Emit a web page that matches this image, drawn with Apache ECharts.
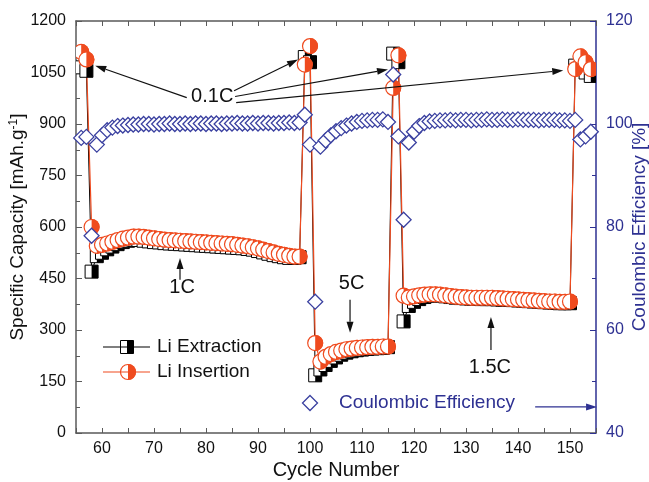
<!DOCTYPE html>
<html>
<head>
<meta charset="utf-8">
<script src="https://cdn.jsdelivr.net/npm/echarts@6/dist/echarts.min.js"></script>
<style>
html, body { margin: 0; padding: 0; background: #fff; }
#chart { width: 649px; height: 482px; }
</style>
</head>
<body>
<div id="chart"></div>
<script>
// cycle numbers
var cycles = [
    56, 57, 58, 59, 60, 61, 62, 63, 64, 65,
    66, 67, 68, 69, 70, 71, 72, 73, 74, 75,
    76, 77, 78, 79, 80, 81, 82, 83, 84, 85,
    86, 87, 88, 89, 90, 91, 92, 93, 94, 95,
    96, 97, 98, 99, 100, 101, 102, 103, 104, 105,
    106, 107, 108, 109, 110, 111, 112, 113, 114, 115,
    116, 117, 118, 119, 120, 121, 122, 123, 124, 125,
    126, 127, 128, 129, 130, 131, 132, 133, 134, 135,
    136, 137, 138, 139, 140, 141, 142, 143, 144, 145,
    146, 147, 148, 149, 150, 151, 152, 153, 154
];

// Li extraction capacity (mAh/g)
var extraction = [
    1065, 1055, 470, 515, 525, 535, 543, 550, 556, 560,
    563, 562, 560, 558, 556, 555, 553, 552, 551, 550,
    549, 548, 547, 546, 545, 544, 543, 542, 541, 540,
    539, 538, 536, 534, 530, 526, 522, 518, 515, 512,
    510, 510, 512, 1095, 1080, 168, 185, 198, 210, 220,
    228, 234, 238, 241, 243, 245, 246, 247, 248, 250,
    1105, 1080, 325, 370, 382, 390, 396, 400, 401, 400,
    398, 396, 394, 393, 392, 391, 391, 390, 390, 390,
    389, 388, 388, 387, 386, 385, 384, 383, 382, 381,
    380, 379, 378, 378, 378, 1070, 1065, 1050, 1040
];

// Li insertion capacity (mAh/g)
var insertion = [
    1110, 1088, 600, 545, 548, 552, 557, 562, 566, 569,
    572, 572, 571, 569, 567, 565, 563, 562, 561, 560,
    559, 558, 557, 556, 555, 554, 553, 552, 551, 550,
    548, 546, 544, 541, 538, 534, 530, 526, 522, 519,
    516, 514, 514, 1073, 1127, 262, 208, 222, 230, 236,
    240, 244, 246, 248, 249, 250, 251, 251, 252, 252,
    1005, 1100, 400, 395, 398, 401, 403, 404, 404, 403,
    401, 399, 397, 396, 395, 394, 394, 394, 394, 394,
    393, 392, 391, 390, 389, 388, 387, 386, 385, 384,
    383, 383, 382, 382, 383, 1060, 1097, 1080, 1060
];

// coulombic efficiency (%)
var efficiency = [
    97.3, 97.5, 78.3, 96.0, 97.8, 98.8, 99.3, 99.6, 99.7, 99.8,
    99.9, 99.9, 100.0, 100.0, 99.9, 100.0, 100.0, 100.1, 100.0, 100.0,
    100.1, 100.0, 100.1, 100.1, 100.0, 100.1, 100.1, 100.0, 100.1, 100.1,
    100.2, 100.1, 100.1, 100.2, 100.1, 100.2, 100.2, 100.1, 100.2, 100.2,
    100.3, 100.2, 100.3, 101.8, 96.0, 65.5, 95.6, 96.8, 97.8, 98.6,
    99.2, 99.7, 100.1, 100.4, 100.6, 100.7, 100.8, 100.8, 100.9, 100.4,
    109.6, 97.6, 81.4, 96.4, 98.5, 99.6, 100.2, 100.5, 100.6, 100.7,
    100.7, 100.8, 100.7, 100.8, 100.8, 100.7, 100.8, 100.8, 100.9, 100.8,
    100.8, 100.9, 100.8, 100.8, 100.9, 100.8, 100.8, 100.8, 100.7, 100.8,
    100.8, 100.8, 100.7, 100.7, 100.6, 100.8, 97.0, 97.6, 98.5
];

// rate labels, placed in data coordinates [cycle, capacity]
var rateNotes = [
    { text: '0.1C', at: [81.2, 980] },
    { text: '1C', at: [75.4, 423] },
    { text: '5C', at: [108, 435] },
    { text: '1.5C', at: [134.6, 190] }
];

// arrows [from, to] in data coordinates
var rateArrows = [
    [[76.3, 977], [58.7, 1070]],
    [[85.4, 997], [97.7, 1088]],
    [[85.6, 980], [115, 1059]],
    [[85.8, 962], [148.7, 1056]],
    [[75, 446], [75, 510]],
    [[107.7, 388], [107.7, 292]],
    [[134.8, 242], [134.8, 338]]
];
var ceArrow = [[143.3, 76], [155.2, 76]];

var ORANGE = '#EF4B1F';
var BLUE = '#2E3192';
var DIAMOND = '#3A40A0';
var AXIS_GREY = '#5a5a5a';
var FONT = 'Arial, "Liberation Sans", sans-serif';

function squareShape(x, y) {
    var s = 13;
    return [
        { type: 'rect', shape: { x: x - s / 2, y: y - s / 2, width: s, height: s }, style: { fill: '#fff', stroke: '#000', lineWidth: 1 } },
        { type: 'rect', shape: { x: x, y: y - s / 2, width: s / 2, height: s }, style: { fill: '#000' } }
    ];
}

function circleShape(x, y) {
    var r = 7.5;
    return [
        { type: 'circle', shape: { cx: x, cy: y, r: r }, style: { fill: '#fff', stroke: ORANGE, lineWidth: 1.2 } },
        { type: 'sector', shape: { cx: x, cy: y, r0: 0, r: r + 0.5, startAngle: -Math.PI / 2, endAngle: Math.PI / 2 }, style: { fill: ORANGE } }
    ];
}

function pairs(ys) {
    return cycles.map(function (c, i) { return [c, ys[i]]; });
}

var chart = echarts.init(document.getElementById('chart'));

var option = {
    animation: false,
    backgroundColor: '#fff',
    textStyle: { fontFamily: FONT },
    grid: { left: 76, right: 53, top: 21, bottom: 49, containLabel: false, outerBoundsMode: 'none' },
    xAxis: [
        {
            type: 'value',
            min: 55,
            max: 155,
            interval: 5,
            position: 'bottom',
            name: 'Cycle Number',
            nameLocation: 'middle',
            nameGap: 27,
            nameMoveOverlap: false,
            nameTextStyle: { fontSize: 20, color: '#111', fontFamily: FONT },
            axisLine: { lineStyle: { color: AXIS_GREY, width: 1.5 } },
            axisTick: { inside: true, length: 5, lineStyle: { color: AXIS_GREY } },
            axisLabel: {
                color: '#111',
                fontSize: 16,
                margin: 8,
                fontFamily: FONT,
                formatter: function (v) { return v % 10 === 0 ? String(v) : ''; }
            },
            splitLine: { show: false }
        },
        {
            type: 'value',
            min: 55,
            max: 155,
            interval: 5,
            position: 'top',
            axisLine: { lineStyle: { color: AXIS_GREY, width: 1.5 } },
            axisTick: { inside: true, length: 5, lineStyle: { color: AXIS_GREY } },
            axisLabel: { show: false },
            splitLine: { show: false }
        }
    ],
    yAxis: [
        {
            type: 'value',
            min: 0,
            max: 1200,
            interval: 150,
            position: 'left',
            name: 'Specific Capacity [mAh.g{sup|-1}]',
            nameLocation: 'middle',
            nameGap: 48,
            nameMoveOverlap: false,
            nameTextStyle: {
                fontSize: 19,
                color: '#111',
                fontFamily: FONT,
                rich: { sup: { fontSize: 12, color: '#111', verticalAlign: 'top', padding: [0, 0, 8, 0] } }
            },
            axisLine: { show: true, lineStyle: { color: AXIS_GREY, width: 1.5 } },
            axisTick: { show: true, inside: true, length: 6, lineStyle: { color: AXIS_GREY } },
            minorTick: { show: true, splitNumber: 2, length: 4, lineStyle: { color: AXIS_GREY } },
            axisLabel: {
                color: '#111',
                fontSize: 16,
                margin: 10,
                fontFamily: FONT,
                formatter: function (v) { return String(v); }
            },
            splitLine: { show: false }
        },
        {
            type: 'value',
            min: 40,
            max: 120,
            interval: 20,
            position: 'right',
            name: 'Coulombic Efficiency [%]',
            nameLocation: 'middle',
            nameGap: 34,
            nameMoveOverlap: false,
            nameTextStyle: { fontSize: 19, color: BLUE, fontFamily: FONT },
            axisLine: { show: true, lineStyle: { color: BLUE, width: 1.5 } },
            axisTick: { show: true, inside: true, length: 6, lineStyle: { color: BLUE } },
            minorTick: { show: true, splitNumber: 2, length: 4, lineStyle: { color: BLUE } },
            axisLabel: {
                color: BLUE,
                fontSize: 16,
                margin: 10,
                fontFamily: FONT,
                formatter: function (v) { return String(v); }
            },
            splitLine: { show: false }
        }
    ],
    series: [
        {
            name: 'Li Extraction line',
            type: 'line',
            data: pairs(extraction),
            symbol: 'none',
            lineStyle: { color: '#000', width: 1 },
            z: 2
        },
        {
            name: 'Li Insertion line',
            type: 'line',
            data: pairs(insertion),
            symbol: 'none',
            lineStyle: { color: ORANGE, width: 1.2 },
            z: 2
        },
        {
            name: 'Li Extraction',
            type: 'custom',
            data: pairs(extraction),
            clip: true,
            z: 3,
            renderItem: function (params, api) {
                var p = api.coord([api.value(0), api.value(1)]);
                return { type: 'group', children: squareShape(p[0], p[1]) };
            }
        },
        {
            name: 'Li Insertion',
            type: 'custom',
            data: pairs(insertion),
            clip: true,
            z: 4,
            renderItem: function (params, api) {
                var p = api.coord([api.value(0), api.value(1)]);
                return { type: 'group', children: circleShape(p[0], p[1]) };
            }
        },
        {
            name: 'Coulombic Efficiency',
            type: 'scatter',
            yAxisIndex: 1,
            data: pairs(efficiency),
            symbol: 'diamond',
            symbolSize: 15,
            itemStyle: { color: '#fff', borderColor: DIAMOND, borderWidth: 1.3, opacity: 1 },
            z: 5
        }
    ]
};

chart.setOption(option);

// annotations and legend
function arrowParts(from, to, color) {
    var a = chart.convertToPixel({ gridIndex: 0 }, from);
    var b = chart.convertToPixel({ gridIndex: 0 }, to);
    var dx = b[0] - a[0], dy = b[1] - a[1];
    var len = Math.sqrt(dx * dx + dy * dy);
    var ux = dx / len, uy = dy / len;
    var headL = 11, headW = 3.5;
    var bx = b[0] - ux * headL, by = b[1] - uy * headL;
    return [
        { type: 'line', shape: { x1: a[0], y1: a[1], x2: bx, y2: by }, style: { stroke: color, lineWidth: 1.2 }, z: 10 },
        {
            type: 'polygon',
            shape: { points: [[b[0], b[1]], [bx - uy * headW, by + ux * headW], [bx + uy * headW, by - ux * headW]] },
            style: { fill: color },
            z: 10
        }
    ];
}

var graphics = [];

rateNotes.forEach(function (n) {
    var p = chart.convertToPixel({ gridIndex: 0 }, n.at);
    graphics.push({
        type: 'text', x: p[0], y: p[1], z: 10,
        style: { text: n.text, fontSize: 20, fontFamily: FONT, fill: '#111', align: 'center', verticalAlign: 'middle' }
    });
});

rateArrows.forEach(function (ar) {
    graphics = graphics.concat(arrowParts(ar[0], ar[1], '#111'));
});
graphics = graphics.concat(arrowParts(ceArrow[0], ceArrow[1], BLUE));

// legend: extraction / insertion
graphics.push({ type: 'line', shape: { x1: 103, y1: 347, x2: 150, y2: 347 }, style: { stroke: '#000', lineWidth: 1.2 }, z: 10 });
graphics.push({ type: 'group', children: squareShape(127, 347), z: 11 });
graphics.push({
    type: 'text', x: 157, y: 347, z: 10,
    style: { text: 'Li Extraction', fontSize: 19, fontFamily: FONT, fill: '#111', verticalAlign: 'middle' }
});
graphics.push({ type: 'line', shape: { x1: 103, y1: 372, x2: 150, y2: 372 }, style: { stroke: ORANGE, lineWidth: 1.2 }, z: 10 });
graphics.push({ type: 'group', children: circleShape(128, 372), z: 11 });
graphics.push({
    type: 'text', x: 157, y: 372, z: 10,
    style: { text: 'Li Insertion', fontSize: 19, fontFamily: FONT, fill: '#111', verticalAlign: 'middle' }
});

// legend: coulombic efficiency
graphics.push({
    type: 'polygon', z: 10,
    shape: { points: [[310, 395.5], [317.5, 403], [310, 410.5], [302.5, 403]] },
    style: { fill: '#fff', stroke: DIAMOND, lineWidth: 1.3 }
});
graphics.push({
    type: 'text', x: 339, y: 403, z: 10,
    style: { text: 'Coulombic Efficiency', fontSize: 19, fontFamily: FONT, fill: BLUE, verticalAlign: 'middle' }
});

chart.setOption({ graphic: graphics });
</script>
</body>
</html>
